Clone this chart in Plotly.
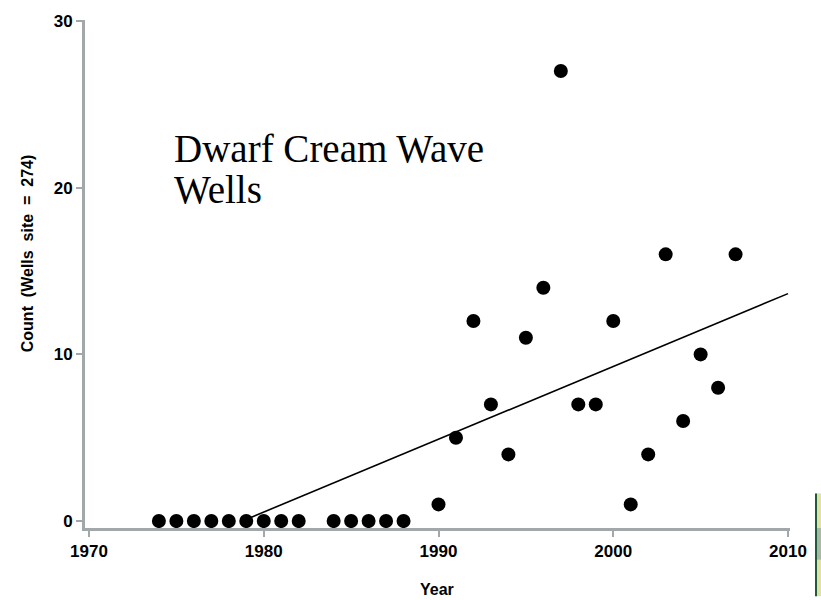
import numpy as np
import plotly.graph_objects as go

# Annual counts at the Wells site
years = [1974, 1975, 1976, 1977, 1978, 1979, 1980, 1981, 1982,
         1984, 1985, 1986, 1987, 1988,
         1990, 1991, 1992, 1993, 1994, 1995, 1996, 1997, 1998, 1999,
         2000, 2001, 2002, 2003, 2004, 2005, 2006, 2007]
counts = [0, 0, 0, 0, 0, 0, 0, 0, 0,
          0, 0, 0, 0, 0,
          1, 5, 12, 7, 4, 11, 14, 27, 7, 7,
          12, 1, 4, 16, 6, 10, 8, 16]

x_ticks = [1970, 1980, 1990, 2000, 2010]
y_ticks = [0, 10, 20, 30]

# Least-squares trend, drawn from where it crosses zero to the end of the axis
slope, intercept = np.polyfit(years, counts, 1)
x0 = -intercept / slope
x1 = 2010
trend_x = [x0, x1]
trend_y = [slope * x0 + intercept, slope * x1 + intercept]

# Plot-area geometry in pixels (used to place paper-referenced items)
L, R, T, B = 85, 790, 14, 528
W, H = R - L, B - T


def px(x):
    return (x - L) / W


def py(y):
    return (B - y) / H


axis_grey = "#a2a7aa"
sans = "Liberation Sans, Arial, sans-serif"
tick_font = dict(family=sans, size=17, color="black", weight="bold")
title_font = dict(family=sans, size=16, color="black", weight="bold")

fig = go.Figure()
fig.add_trace(go.Scatter(
    x=trend_x, y=trend_y, mode="lines",
    line=dict(color="black", width=1.6), hoverinfo="skip", showlegend=False))
fig.add_trace(go.Scatter(
    x=years, y=counts, mode="markers",
    marker=dict(color="black", size=14, line=dict(width=0)),
    showlegend=False))

# Title text in the upper left of the plotting area
serif = dict(family="Liberation Serif, Times New Roman, serif", size=39,
             color="black")
fig.add_annotation(xref="paper", yref="paper", x=px(172), y=py(144),
                   xanchor="left", yanchor="middle",
                   text="Dwarf Cream Wave", showarrow=False, font=serif)
fig.add_annotation(xref="paper", yref="paper", x=px(172), y=py(186),
                   xanchor="left", yanchor="middle",
                   text="Wells", showarrow=False, font=serif)

# Axis titles
fig.add_annotation(xref="paper", yref="paper", x=px(437), y=py(590),
                   xanchor="center", yanchor="middle", text="Year",
                   showarrow=False, font=title_font)
fig.add_annotation(xref="paper", yref="paper", x=px(27), y=py(250),
                   xanchor="center", yanchor="middle", textangle=-90,
                   text="Count\u00a0\u00a0(Wells\u00a0\u00a0site\u00a0\u00a0=\u00a0\u00a0274)",
                   showarrow=False, font=title_font)

# Edge of a neighbouring panel at the right border
fig.add_shape(type="rect", xref="paper", yref="paper",
              x0=px(815), x1=px(822), y0=py(597), y1=py(493),
              fillcolor="#dfe2a0", line=dict(width=0), layer="above")
fig.add_shape(type="rect", xref="paper", yref="paper",
              x0=px(815), x1=px(817), y0=py(597), y1=py(493),
              fillcolor="#1e5a3c", line=dict(width=0), layer="above")
fig.add_shape(type="rect", xref="paper", yref="paper",
              x0=px(817), x1=px(822), y0=py(560), y1=py(528),
              fillcolor="#a9b8a0", line=dict(width=0), layer="above")

fig.update_layout(
    width=821, height=600,
    margin=dict(l=L, r=821 - R, t=T, b=600 - B),
    plot_bgcolor="white", paper_bgcolor="white",
    xaxis=dict(
        range=[1970 - 4 / 17.48, 2010 + 2 / 17.48],
        tickvals=x_ticks, ticktext=[str(v) for v in x_ticks],
        showgrid=False, zeroline=False,
        showline=True, linecolor=axis_grey, linewidth=3,
        ticks="outside", ticklen=6, tickwidth=1.5, tickcolor=axis_grey,
        tickfont=tick_font,
    ),
    yaxis=dict(
        range=[-7 / 16.85, 30 + 1 / 16.85],
        tickvals=y_ticks, ticktext=[str(v) for v in y_ticks],
        showgrid=False, zeroline=False,
        showline=True, linecolor=axis_grey, linewidth=3,
        ticks="outside", ticklen=6, tickwidth=1.5, tickcolor=axis_grey,
        tickfont=tick_font,
    ),
)

fig.write_html("out.html")
